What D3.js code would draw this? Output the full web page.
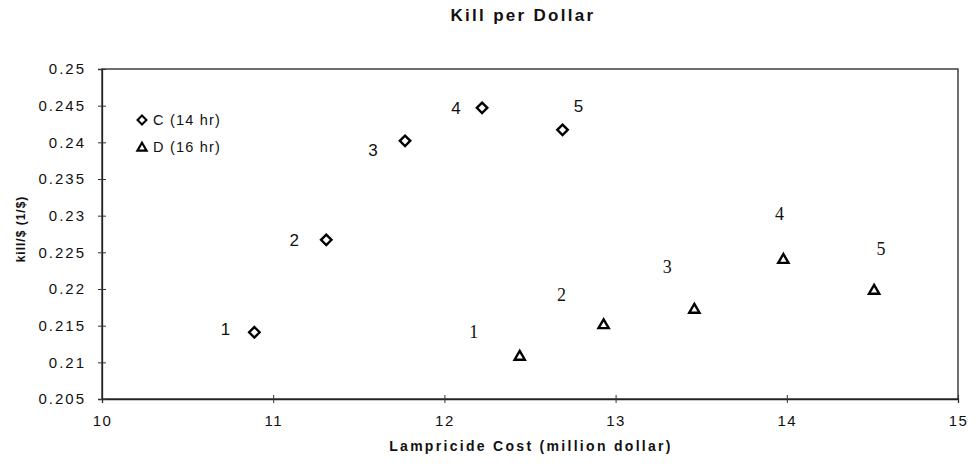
<!DOCTYPE html>
<html>
<head>
<meta charset="utf-8">
<script src="https://cdn.jsdelivr.net/npm/d3@7"></script>
<style>
  body { margin: 0; background: #fff; }
  text { font-family: "Liberation Sans", Arial, sans-serif; fill: #111; }
</style>
</head>
<body>
<div id="chart"></div>
<script>
// values
const pointLabels = ["1", "2", "3", "4", "5"];
const costC = [10.89, 11.31, 11.77, 12.22, 12.69];
const killC = [0.2141, 0.2267, 0.2402, 0.2447, 0.2417];
const costD = [12.44, 12.93, 13.46, 13.98, 14.51];
const killD = [0.2109, 0.2152, 0.2173, 0.2241, 0.2199];
const seriesNames = ["C (14 hr)", "D (16 hr)"];
const xTicks = [10, 11, 12, 13, 14, 15];
const yTicks = [0.205, 0.21, 0.215, 0.22, 0.225, 0.23, 0.235, 0.24, 0.245, 0.25];

// label offsets (pixels) - hand placed in the original
const offC = [[-29, -3], [-32, 0], [-32, 9], [-26, 0], [16, -24]];
const offD = [[-46, -24], [-42, -30], [-27, -42], [-4, -45], [7, -41]];

const W = 977, H = 466;
const margin = {top: 69, right: 19, bottom: 67, left: 102};

const svg = d3.select("#chart").append("svg")
    .attr("width", W)
    .attr("height", H);

const x = d3.scaleLinear().domain([10, 15]).range([margin.left, W - margin.right]);
const y = d3.scaleLinear().domain([0.205, 0.25]).range([H - margin.bottom, margin.top]);

// frame
svg.append("rect")
    .attr("x", x(10)).attr("y", y(0.25))
    .attr("width", x(15) - x(10)).attr("height", y(0.205) - y(0.25))
    .attr("fill", "none").attr("stroke", "#222").attr("stroke-width", 1.3);

// axes, ticks cross the line
const xAxis = svg.append("g")
    .attr("transform", `translate(0,${y(0.205)})`)
    .call(d3.axisBottom(x).tickValues(xTicks).tickSize(4).tickPadding(12).tickFormat(d3.format("d")));
xAxis.selectAll(".tick line").attr("y1", -4).attr("stroke", "#333");
xAxis.select(".domain").attr("stroke", "#222").attr("stroke-width", 1.3);
xAxis.selectAll("text").attr("font-size", 15).attr("letter-spacing", 1.5)
    .attr("font-family", "Liberation Sans, Arial, sans-serif");

const yAxis = svg.append("g")
    .attr("transform", `translate(${x(10)},0)`)
    .call(d3.axisLeft(y).tickValues(yTicks).tickSize(4).tickPadding(12).tickFormat(d => String(+d.toFixed(3))));
yAxis.selectAll(".tick line").attr("x1", 4).attr("stroke", "#333");
yAxis.select(".domain").attr("stroke", "#222").attr("stroke-width", 1.3);
yAxis.selectAll("text").attr("font-size", 15).attr("letter-spacing", 2)
    .attr("font-family", "Liberation Sans, Arial, sans-serif");

// titles
svg.append("text")
    .attr("x", 523).attr("y", 21)
    .attr("text-anchor", "middle")
    .attr("font-size", 17).attr("font-weight", "bold")
    .attr("letter-spacing", 2.3)
    .text("Kill per Dollar");

svg.append("text")
    .attr("x", 531).attr("y", 451)
    .attr("text-anchor", "middle")
    .attr("font-size", 14).attr("font-weight", "bold")
    .attr("letter-spacing", 2.3)
    .text("Lampricide Cost (million dollar)");

svg.append("text")
    .attr("transform", "translate(25,229) rotate(-90)")
    .attr("text-anchor", "middle")
    .attr("font-size", 12).attr("font-weight", "bold")
    .attr("letter-spacing", 1)
    .text("kill/$ (1/$)");

// markers
const diamond = d3.symbol().type(d3.symbolDiamond2).size(70);
const triangle = d3.symbol().type(d3.symbolTriangle2).size(75);

const dataC = costC.map((c, i) => ({x: c, y: killC[i], label: pointLabels[i], off: offC[i]}));
const dataD = costD.map((c, i) => ({x: c, y: killD[i], label: pointLabels[i], off: offD[i]}));

svg.append("g").selectAll("path")
    .data(dataC)
    .join("path")
        .attr("d", diamond)
        .attr("transform", d => `translate(${x(d.x)},${y(d.y)})`)
        .attr("fill", "#fff").attr("stroke", "#000").attr("stroke-width", 2.4);

svg.append("g").selectAll("path")
    .data(dataD)
    .join("path")
        .attr("d", triangle)
        .attr("transform", d => `translate(${x(d.x)},${y(d.y) + 1})`)
        .attr("fill", "#fff").attr("stroke", "#000").attr("stroke-width", 2.4)
        .attr("stroke-linejoin", "miter");

// point numbers: sans for C, serif for D
svg.append("g").selectAll("text")
    .data(dataC)
    .join("text")
        .attr("x", d => x(d.x) + d.off[0])
        .attr("y", d => y(d.y) + d.off[1])
        .attr("dy", "0.35em")
        .attr("text-anchor", "middle")
        .attr("font-size", 17)
        .text(d => d.label);

svg.append("g").selectAll("text")
    .data(dataD)
    .join("text")
        .attr("x", d => x(d.x) + d.off[0])
        .attr("y", d => y(d.y) + d.off[1])
        .attr("dy", "0.35em")
        .attr("text-anchor", "middle")
        .attr("font-size", 18)
        .style("font-family", "'Liberation Serif', 'Times New Roman', serif")
        .text(d => d.label);

// legend
const legend = svg.append("g").attr("transform", "translate(142,120)");
[diamond, triangle].forEach((sym, i) => {
    const g = legend.append("g").attr("transform", `translate(0,${i * 27})`);
    g.append("path")
        .attr("d", sym)
        .attr("transform", i ? "translate(0,1) scale(0.9)" : "scale(0.85)")
        .attr("fill", "#fff").attr("stroke", "#000").attr("stroke-width", 2.4);
    g.append("text")
        .attr("x", 11).attr("dy", "0.36em")
        .attr("font-size", 14.5)
        .attr("letter-spacing", 1.2)
        .text(seriesNames[i]);
});
</script>
</body>
</html>
